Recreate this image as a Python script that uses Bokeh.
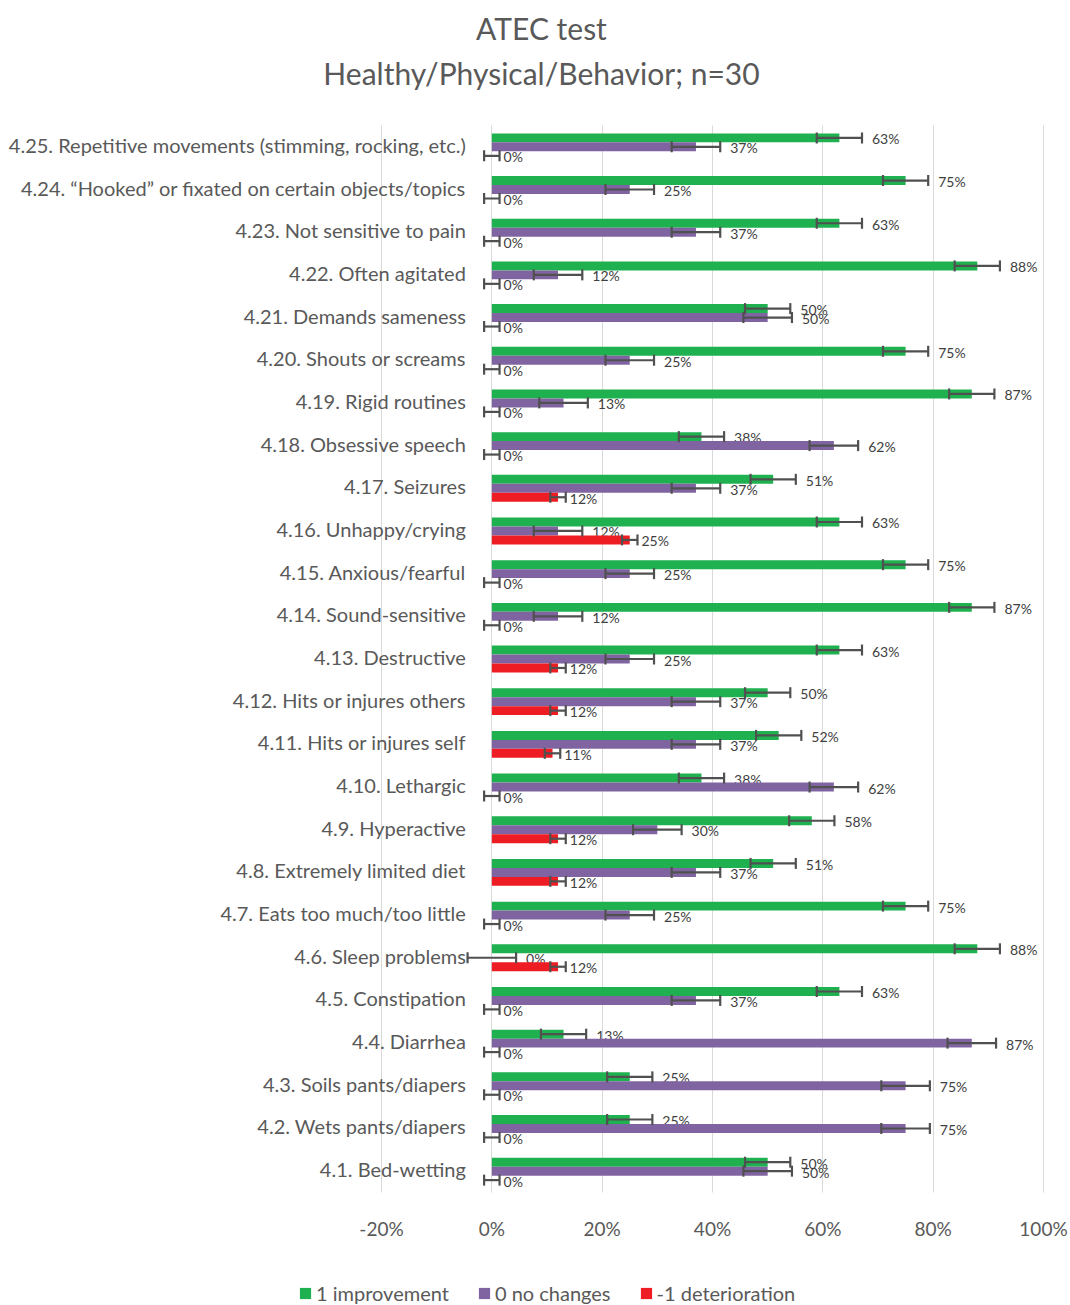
from bokeh.plotting import figure
from bokeh.models import (ColumnDataSource, Range1d, FixedTicker, PrintfTickFormatter,
                          Whisker, TeeHead, Legend, LegendItem, Label)
from bokeh.core.properties import value
from bokeh.embed import file_html
from bokeh.resources import INLINE

# ---------------- data (top row first) ----------------
categories = [
    "4.25. Repetitive movements (stimming, rocking, etc.)",
    "4.24. \u201cHooked\u201d or fixated on certain objects/topics",
    "4.23. Not sensitive to pain",
    "4.22. Often agitated",
    "4.21. Demands sameness",
    "4.20. Shouts or screams",
    "4.19. Rigid routines",
    "4.18. Obsessive speech",
    "4.17. Seizures",
    "4.16. Unhappy/crying",
    "4.15. Anxious/fearful",
    "4.14. Sound-sensitive",
    "4.13. Destructive",
    "4.12. Hits or injures others",
    "4.11. Hits or injures self",
    "4.10. Lethargic",
    "4.9. Hyperactive",
    "4.8. Extremely limited diet",
    "4.7. Eats too much/too little",
    "4.6. Sleep problems",
    "4.5. Constipation",
    "4.4. Diarrhea",
    "4.3. Soils pants/diapers",
    "4.2. Wets pants/diapers",
    "4.1. Bed-wetting",
]
improvement   = [63, 75, 63, 88, 50, 75, 87, 38, 51, 63, 75, 87, 63, 50, 52, 38, 58, 51, 75, 88, 63, 13, 25, 25, 50]
no_changes    = [37, 25, 37, 12, 50, 25, 13, 62, 37, 12, 25, 12, 25, 37, 37, 62, 30, 37, 25, 0, 37, 87, 75, 75, 50]
deterioration = [0, 0, 0, 0, 0, 0, 0, 0, 12, 25, 0, 0, 12, 12, 11, 0, 12, 12, 0, 12, 0, 0, 0, 0, 0]
err_improvement   = [4.1, 4.1, 4.1, 4.1, 4.1, 4.1, 4.1, 4.1, 4.1, 4.1, 4.1, 4.1, 4.1, 4.1, 4.1, 4.1, 4.1, 4.1, 4.1, 4.1, 4.1, 4.1, 4.1, 4.1, 4.1]
err_no_changes    = [4.4, 4.4, 4.4, 4.4, 4.4, 4.4, 4.4, 4.4, 4.4, 4.4, 4.4, 4.4, 4.4, 4.4, 4.4, 4.4, 4.4, 4.4, 4.4, 4.4, 4.4, 4.4, 4.4, 4.4, 4.4]
err_deterioration = [1.4, 1.4, 1.4, 1.4, 1.4, 1.4, 1.4, 1.4, 1.4, 1.4, 1.4, 1.4, 1.4, 1.4, 1.4, 1.4, 1.4, 1.4, 1.4, 1.4, 1.4, 1.4, 1.4, 1.4, 1.4]
series_names = ["1 improvement", "0 no changes", "-1 deterioration"]
x_ticks = [-20, 0, 20, 40, 60, 80, 100]
title_lines = ["ATEC test", "Healthy/Physical/Behavior; n=30"]

# ---------------- styling / layout ----------------
FONT = "Lato"
GRAY = "#595959"
colors = ["#1FB050", "#8064A2", "#EE1D23"]
offsets = [0.21, 0.0, -0.21]
label_pad = [10, 10, 4]

W, H = 1070, 1305
X0_PX, X100_PX = 381, 1043          # pixel of -20% and 100%
TOP_PX, BOT_PX = 125, 1192          # pixel of plot area top / bottom
px_per = (X100_PX - X0_PX) / 120.0
x_start = -20 - X0_PX / px_per
x_end = 100 + (W - X100_PX) / px_per
n = len(categories)
py_per = (BOT_PX - TOP_PX) / float(n)
y_top = n + 0.5 + TOP_PX / py_per
y_bot = 0.5 - (H - BOT_PX) / py_per

p = figure(width=W, height=H, x_range=Range1d(x_start, x_end), y_range=Range1d(y_bot, y_top),
           toolbar_location=None, output_backend="svg", y_axis_location=None,
           min_border_left=0, min_border_right=0, min_border_top=0, min_border_bottom=0)
p.outline_line_color = None
p.ygrid.visible = False
p.xgrid.ticker = FixedTicker(ticks=x_ticks)
p.xgrid.grid_line_color = "#D9D9D9"
p.xgrid.grid_line_width = 1
p.xgrid.cross_bounds = (0.5, n + 0.5)

ax = p.xaxis[0]
ax.fixed_location = 0.5
ax.ticker = FixedTicker(ticks=x_ticks)
ax.formatter = PrintfTickFormatter(format="%d%%")
ax.axis_line_color = None
ax.major_tick_line_color = None
ax.minor_tick_line_color = None
ax.major_tick_out = 0
ax.major_tick_in = 0
ax.major_label_standoff = 24
ax.major_label_text_font = FONT
ax.major_label_text_font_size = "19px"
ax.major_label_text_color = GRAY

ypos = [n - i for i in range(n)]

cat_src = ColumnDataSource(dict(y=ypos, cat=categories))
p.text(x=0, y="y", text="cat", source=cat_src, x_offset=-26, y_offset=-2, text_align="right",
       text_baseline="middle", text_font=value(FONT), text_font_size="20px", text_color=GRAY)

renderers = []
for vals, errs, col, off, pad in zip([improvement, no_changes, deterioration],
                                     [err_improvement, err_no_changes, err_deterioration],
                                     colors, offsets, label_pad):
    src = ColumnDataSource(dict(
        y=[yy + off for yy in ypos],
        v=vals,
        lo=[v - e for v, e in zip(vals, errs)],
        hi=[v + e for v, e in zip(vals, errs)],
        lab=[f"{v}%" for v in vals],
    ))
    r = p.hbar(y="y", left=0, right="v", height=0.21, source=src, fill_color=col, line_color=None)
    renderers.append(r)
    wk = Whisker(base="y", lower="lo", upper="hi", dimension="width", source=src,
                 line_color="#505050", line_width=2.2, level="annotation",
                 upper_head=TeeHead(size=11, line_color="#505050", line_width=2.2),
                 lower_head=TeeHead(size=11, line_color="#505050", line_width=2.2))
    p.add_layout(wk)
    p.text(x="hi", y="y", text="lab", source=src, x_offset=pad, y_offset=1, text_align="left",
           text_baseline="middle", text_font=value(FONT), text_font_size="14px", text_color="#404040")

# title (two centred lines above the plot area)
tx = x_start + 541 / px_per
for line, cy in zip(title_lines, [27, 72]):
    p.add_layout(Label(x=tx, y=n + 0.5 + (TOP_PX - cy) / py_per, text=line,
                       text_align="center", text_baseline="middle",
                       text_font=FONT, text_font_size="30px", text_color=GRAY))

legend = Legend(items=[LegendItem(label=nm, renderers=[r]) for nm, r in zip(series_names, renderers)],
                orientation="horizontal", location=(298, 0), glyph_width=14, glyph_height=14,
                label_text_font=FONT, label_text_font_size="20px", label_text_color=GRAY,
                spacing=28, label_standoff=4, padding=0, margin=0,
                border_line_color=None, background_fill_alpha=0)
p.add_layout(legend)

open("out.html", "w").write(file_html(p, INLINE))
